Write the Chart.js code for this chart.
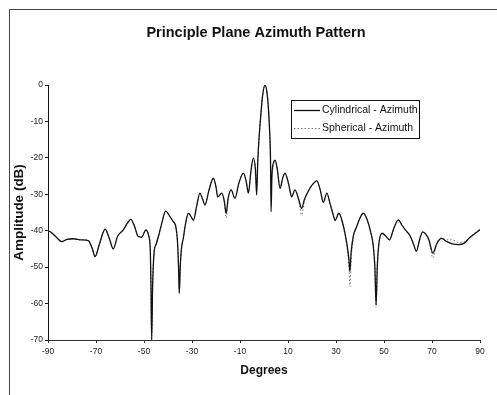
<!DOCTYPE html>
<html>
<head>
<meta charset="utf-8">
<script src="https://cdn.jsdelivr.net/npm/chart.js@4/dist/chart.umd.min.js"></script>
<style>
html,body{margin:0;padding:0;background:#fff;}
#wrap{width:497px;height:395px;position:relative;}
canvas{display:block;}
</style>
</head>
<body>
<div id="wrap"><canvas id="c" width="497" height="395"></canvas></div>
<script>
const chartTitle = "Principle Plane Azimuth Pattern";
const xTitle = "Degrees";
const yTitle = "Amplitude (dB)";
const seriesNames = ["Cylindrical - Azimuth", "Spherical - Azimuth"];
const xTicks = [-90, -70, -50, -30, -10, 10, 30, 50, 70, 90];
const yTicks = [0, -10, -20, -30, -40, -50, -60, -70];

const degrees = [
 -90, -89, -86.5, -84.3, -82.2, -79.5, -76, -73.2, -71.5, -70.4,
 -68.5, -66.2, -64.5, -62.8, -61, -58.6, -57, -55.5, -54, -52.4,
 -51, -49.2, -48, -47.4, -47.1, -46.8, -46.4, -45.8, -45, -44,
 -42.6, -41, -39.2, -37.8, -36.8, -36.1, -35.6, -35.3, -34.9, -34.4,
 -33.6, -32.9, -31.5, -30.5, -29.4, -28.1, -26.7, -25.5, -24.6, -22.9,
 -21.1, -20, -19.3, -17.6, -16.5, -15.8, -14.9, -13.7, -12.1, -10.5,
 -8.6, -7.4, -6.5, -5.5, -4.45, -3.6, -3.05, -2.6, -2, -1.3,
 -0.6, 0.4, 1.2, 1.8, 2.3, 2.7, 2.95, 3.3, 4, 4.6,
 5.5, 6.7, 7.8, 8.75, 9.8, 10.5, 11.5, 12.9, 14.5, 15.7,
 16.8, 18, 20, 22, 23.5, 24.7, 26.2, 27.5, 29, 29.6,
 31.2, 33, 34.5, 35.4, 35.8, 36.3, 37.2, 38.6, 40, 41.4,
 43, 44.5, 45.5, 46.2, 46.7, 47.2, 47.8, 49.2, 50.8, 52.3,
 54, 56, 57.5, 59.4, 60.8, 62.2, 63.5, 65, 66.2, 67.5,
 68.7, 70.4, 72, 74, 76.2, 78.5, 81, 83.5, 85.5, 87.5,
 90
];

const cylindrical = [
 -40, -40.3, -41.8, -43.0, -42.4, -42.2, -42.5, -42.7, -45, -47.1,
 -43.5, -39.6, -42, -45.0, -41.5, -39.8, -38, -36.9, -38.7, -41.6,
 -41.8, -39.8, -41.5, -45, -55, -70, -55, -46, -43.8, -41.6,
 -38, -34.6, -36.1, -37.5, -38.7, -42.5, -50, -57.2, -50, -45,
 -42, -38.9, -35.2, -36, -37.1, -33.4, -29.7, -31.5, -32.9, -28.8,
 -25.6, -28, -30.7, -29.7, -32, -35.2, -31, -28.8, -31.1, -27,
 -24.2, -26.5, -29.7, -24, -20.1, -23, -30.2, -21, -14, -8,
 -3, 0, -1.8, -6, -12, -20, -34.8, -25, -21.3, -20.6,
 -23, -28.4, -25.5, -24.2, -26, -27.9, -30.7, -28.8, -31.5, -33.9,
 -31.5, -29.7, -27.5, -26.3, -29, -32.2, -29.7, -32.5, -36, -37.2,
 -35.2, -38.5, -43.5, -48, -51.2, -46, -41.5, -38.9, -36.5, -35.2,
 -37, -40.5, -44, -50, -60.4, -50, -44, -40.7, -41.5, -42.5,
 -39.5, -37, -38.5, -40.2, -41.3, -43.5, -45.6, -42, -40.3, -41,
 -42.5, -46.2, -43.5, -42.1, -43, -43.6, -43.8, -43.4, -42, -41,
 -39.7
];

const spherical = [
 -40, -40.3, -41.8, -43.0, -42.6, -42.2, -42.5, -42.7, -45, -47.1,
 -43.5, -39.6, -42, -45.0, -41.5, -39.8, -38, -36.9, -38.7, -41.6,
 -41.6, -39.8, -41.5, -45, -55, -70, -55, -46, -43.8, -41.6,
 -38, -34.6, -36.1, -37.5, -38.7, -42.5, -50, -57, -50, -45,
 -42, -38.9, -35.2, -36, -37.3, -33.4, -29.7, -31.5, -33.2, -28.8,
 -25.6, -28, -30.7, -29.7, -32.5, -36.5, -31, -28.8, -31.1, -27,
 -24.2, -26.5, -29.5, -24, -20.1, -23, -28, -21, -14, -8,
 -3, 0, -1.8, -6, -12, -20, -27, -25, -21.3, -20.6,
 -23, -28.4, -25.5, -24.2, -26, -27.9, -30.7, -28.8, -32, -35.7,
 -32, -29.7, -27.5, -26.3, -29, -32.2, -29.7, -32.5, -36, -37.2,
 -35.2, -38.5, -44, -50, -55.4, -48, -42, -38.9, -36.5, -35.2,
 -37, -40.5, -44, -50, -61, -50, -44, -40.7, -41.5, -42.5,
 -39.5, -37, -38.5, -40.2, -41.3, -43.5, -45.8, -42, -40.3, -41,
 -42.5, -47.5, -43.5, -42, -42.5, -42.5, -43.2, -43, -42, -40.8,
 -39.5
];

const FONT = "'Liberation Sans', Arial, sans-serif";

const decorPlugin = {
  id: 'decor',
  beforeDraw(chart) {
    const ctx = chart.ctx;
    ctx.save();
    ctx.fillStyle = '#fff';
    ctx.fillRect(0, 0, chart.width, chart.height);
    ctx.strokeStyle = '#444';
    ctx.lineWidth = 1;
    ctx.beginPath();
    ctx.moveTo(9.5, 395);
    ctx.lineTo(9.5, 9.5);
    ctx.lineTo(497, 9.5);
    ctx.stroke();
    ctx.fillStyle = '#111';
    ctx.font = "bold 14.5px " + FONT;
    ctx.textAlign = 'center';
    ctx.textBaseline = 'middle';
    ctx.fillText(chartTitle, 256, 33);
    ctx.restore();
  },
  afterDraw(chart) {
    const ctx = chart.ctx;
    const ds = chart.data.datasets;
    ctx.save();
    const bx = 291.5, by = 100.5, bw = 128, bh = 38;
    ctx.fillStyle = '#fff';
    ctx.fillRect(bx, by, bw, bh);
    ctx.strokeStyle = '#111';
    ctx.lineWidth = 1;
    ctx.strokeRect(bx, by, bw, bh);
    const rows = [110, 128];
    ds.forEach((d, i) => {
      ctx.beginPath();
      ctx.strokeStyle = d.borderColor;
      ctx.lineWidth = d.borderWidth;
      ctx.setLineDash(d.borderDash || []);
      ctx.moveTo(294, rows[i] + 0.5);
      ctx.lineTo(320, rows[i] + 0.5);
      ctx.stroke();
      ctx.setLineDash([]);
      ctx.fillStyle = '#111';
      ctx.font = "10.5px " + FONT;
      ctx.textAlign = 'left';
      ctx.textBaseline = 'middle';
      ctx.fillText(d.label, 322, rows[i]);
    });
    ctx.restore();
  }
};

const mk = (arr) => degrees.map((x, i) => ({ x: x, y: arr[i] }));

new Chart(document.getElementById('c'), {
  type: 'line',
  data: {
    datasets: [
      {
        label: seriesNames[0],
        data: mk(cylindrical),
        borderColor: '#111',
        borderWidth: 1.3,
        pointRadius: 0,
        cubicInterpolationMode: 'monotone',
        fill: false,
        order: 1
      },
      {
        label: seriesNames[1],
        data: mk(spherical),
        borderColor: '#777',
        borderWidth: 1,
        borderDash: [1.5, 2],
        pointRadius: 0,
        cubicInterpolationMode: 'monotone',
        fill: false,
        order: 2
      }
    ]
  },
  options: {
    responsive: false,
    animation: false,
    layout: { padding: { top: 85, left: 0, right: 17, bottom: 0 } },
    plugins: {
      legend: { display: false },
      title: { display: false },
      tooltip: { enabled: false }
    },
    scales: {
      x: {
        type: 'linear',
        min: -90,
        max: 90,
        afterBuildTicks: (s) => { s.ticks = xTicks.map(v => ({ value: v })); },
        afterFit: (s) => { s.height = 55; },
        grid: { drawOnChartArea: false, drawTicks: true, tickLength: 3, color: '#333' },
        border: { display: true, color: '#333', width: 1 },
        ticks: { padding: 4, color: '#222', font: { family: FONT, size: 8.5 }, maxRotation: 0, autoSkip: false },
        title: { display: true, text: xTitle, color: '#111', font: { family: FONT, size: 12, weight: 'bold' }, padding: { top: 0, bottom: 16.8 } }
      },
      y: {
        type: 'linear',
        min: -70,
        max: 0,
        afterBuildTicks: (s) => { s.ticks = yTicks.map(v => ({ value: v })); },
        afterFit: (s) => { s.width = 48; },
        grid: { drawOnChartArea: false, drawTicks: true, tickLength: 3, color: '#111' },
        border: { display: true, color: '#111', width: 1 },
        ticks: { padding: 2, color: '#222', font: { family: FONT, size: 8.5 } },
        title: { display: true, text: yTitle, color: '#111', font: { family: FONT, size: 13.5, weight: 'bold' }, padding: { top: 11, bottom: 0 } }
      }
    }
  },
  plugins: [decorPlugin]
});
</script>
</body>
</html>
